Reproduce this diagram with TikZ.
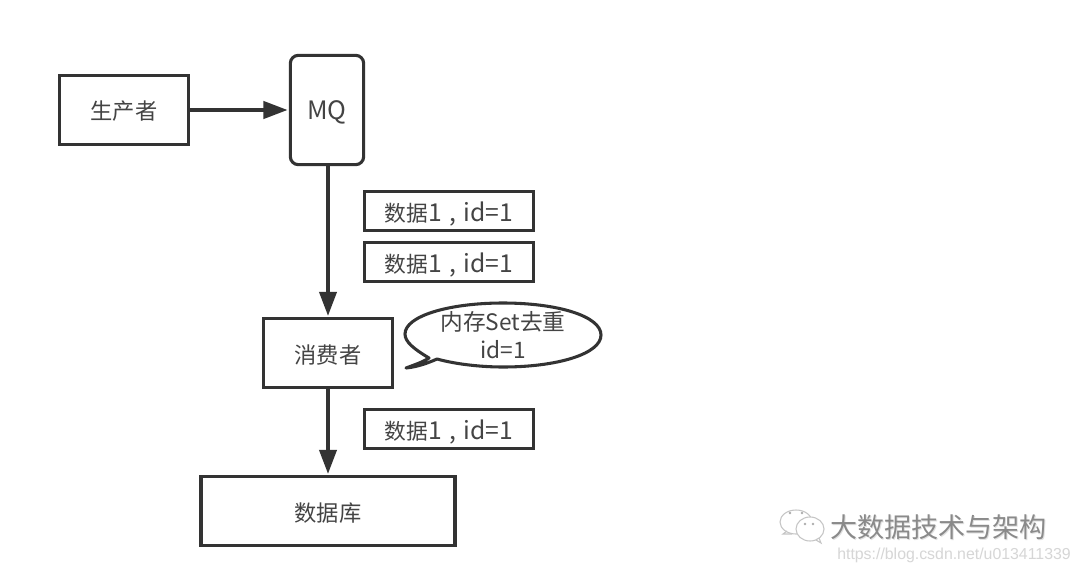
\documentclass[tikz,border=0pt]{standalone}
\usepackage{fontspec}
\setmainfont{Liberation Sans}
\newfontfamily\cjk{Noto Sans CJK SC}
\usetikzlibrary{arrows.meta}
\definecolor{ink}{HTML}{333333}
\definecolor{label}{HTML}{444444}
\definecolor{wm}{HTML}{8A8A8A}
\newcommand\lowered[1]{\raisebox{-7.5pt}[0pt][0pt]{#1}}
\newcommand\tagtext{\lowered{\fontsize{16.3}{19}\selectfont 数据\fontsize{18.5}{20}\selectfont 1\hspace{5.5pt},\hspace{5.5pt}id=1}}
\tikzset{
  x=0.75pt,y=-0.75pt,
  boxnode/.style={draw=ink,line width=2.3pt,fill=white,inner sep=0pt,text=label,font=\cjk\fontsize{16.7}{19}\selectfont,anchor=center},
  tagnode/.style={boxnode,font=\cjk\fontsize{16}{19}\selectfont,minimum width=127pt,minimum height=29pt},
  link/.style={draw=ink,line width=2.3pt,shorten >=1pt,-{Triangle[length=18pt,width=13pt]}},
}
\begin{document}
\begin{tikzpicture}
\useasboundingbox (0,0) rectangle (1080,574);
\fill[white] (0,0) rectangle (1080,574);

\node[boxnode,minimum width=96.5pt,minimum height=51.5pt] (prod) at (124,110) {\lowered{生产者}};
\node[boxnode,rounded corners=6pt,minimum width=55pt,minimum height=82pt,font=\cjk\fontsize{19}{21}\selectfont] (mq) at (327,110) {\lowered{MQ}};
\node[boxnode,minimum width=96.5pt,minimum height=51.5pt] (cons) at (328,353) {\lowered{消费者}};
\node[boxnode,minimum width=190.5pt,minimum height=51.5pt] (db) at (328,511) {\lowered{数据库}};
\node[tagnode] (t1) at (449,211) {\tagtext};
\node[tagnode] (t2) at (449,262) {\tagtext};
\node[tagnode] (t3) at (449,429) {\tagtext};

\draw[link] (prod) -- (mq);
\draw[link] (mq.south -| cons.north) -- (cons.north);
\draw[link] (cons) -- (db);

% speech bubble
\draw[draw=ink,line width=2.3pt,line join=round,fill=white]
  (429,358) .. controls (414,349) and (405,342) .. (405,334)
  .. controls (405,316) and (449,303) .. (503,303)
  .. controls (557,303) and (601,316) .. (601,335)
  .. controls (601,354) and (557,367) .. (503,367)
  .. controls (480,367) and (455,364) .. (437,359)
  .. controls (428,363) and (417,367) .. (406,368)
  .. controls (414,365) and (423,362) .. (429,358) -- cycle;
\node[align=center,inner sep=0pt,text=label,font=\cjk\fontsize{17}{21}\selectfont] (bubble) at (503,335) {内存Set去重\\id=1};

% watermark
\begin{scope}[draw=wm!50,line width=0.8pt,fill=white]
  \draw (796,522) ellipse (16 and 12);
  \draw (787,531) -- (783,534) -- (792,534);
  \draw[fill=white] (810,529) ellipse (14 and 12);
  \draw (816,540) -- (821,543) -- (819,538);
  \fill[wm!70] (790,513) circle (1.3) (802,513) circle (1.3) (805,524) circle (1.3) (813,524) circle (1.3);
\end{scope}
\node[inner sep=0pt,anchor=west,text=black!12,font=\cjk\fontsize{20.3}{22}\selectfont] at (830.8,527.8) {大数据技术与架构};
\node[inner sep=0pt,anchor=west,text=wm,font=\cjk\fontsize{20.3}{22}\selectfont] at (830,527) {大数据技术与架构};
\node[inner sep=0pt,anchor=west,text=black!16,font=\fontsize{11.9}{14}\selectfont] (url) at (837,555) {https://blog.csdn.net/u013411339};
\end{tikzpicture}
\end{document}
